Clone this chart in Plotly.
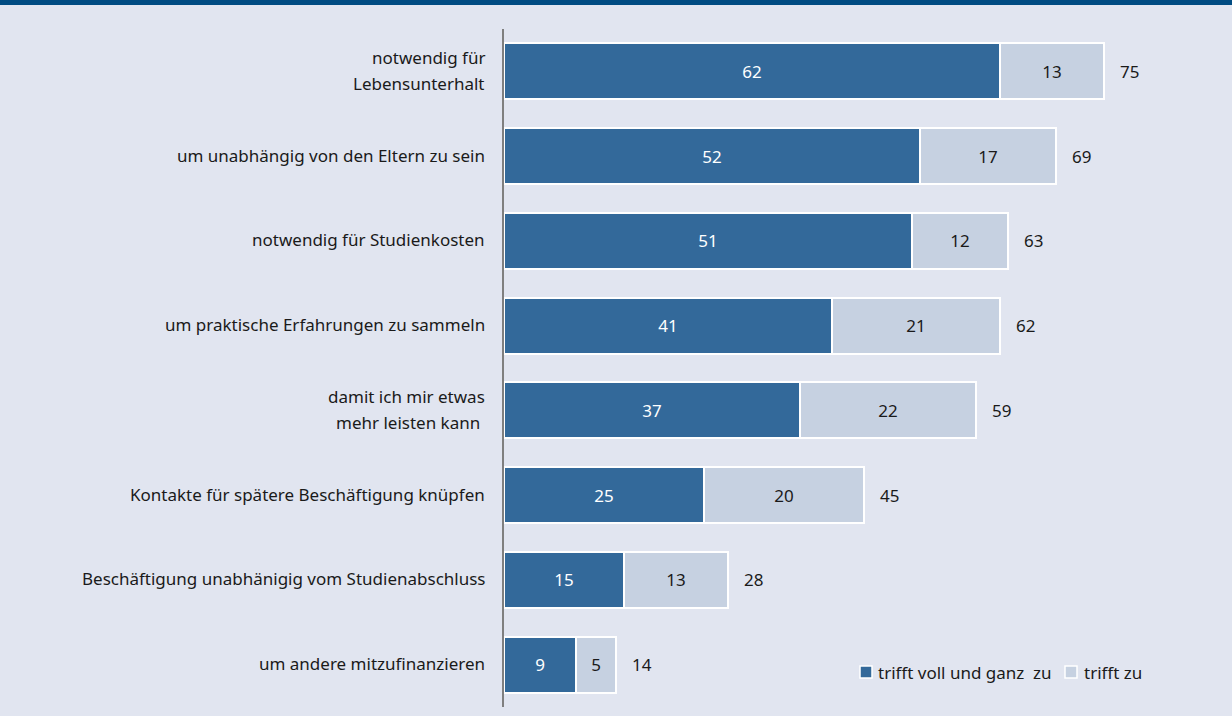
import plotly.graph_objects as go

categories = [
    "notwendig für<br>Lebensunterhalt",
    "um unabhängig von den Eltern zu sein",
    "notwendig für Studienkosten",
    "um praktische Erfahrungen zu sammeln",
    "damit ich mir etwas<br>mehr leisten kann ",
    "Kontakte für spätere Beschäftigung knüpfen",
    "Beschäftigung unabhänigig vom Studienabschluss",
    "um andere mitzufinanzieren",
]
voll = [62, 52, 51, 41, 37, 25, 15, 9]
zu = [13, 17, 12, 21, 22, 20, 13, 5]
totals = [75, 69, 63, 62, 59, 45, 28, 14]
legend_names = ["trifft voll und ganz  zu", "trifft zu"]

DARK = "#33699a"
LIGHT = "#c6d1e1"
BG = "#e1e5f0"
TXT = "#1a1a1a"
FONT = "Noto Sans"
FS = 17

W, H = 1232, 716
ML, MR, MT, MB = 504, 8, 29, 9
PW, PH = W - ML - MR, H - MT - MB


def px2x(px):
    return (px - ML) / PW


def px2y(py):
    return (H - MB - py) / PH


fig = go.Figure()
fig.add_trace(go.Bar(
    y=categories, x=voll, orientation="h", name=legend_names[0],
    marker=dict(color=DARK, line=dict(color="white", width=2)),
    text=voll, textposition="inside", insidetextanchor="middle",
    textfont=dict(color="white", size=FS, family=FONT), width=0.66,
))
fig.add_trace(go.Bar(
    y=categories, x=zu, orientation="h", name=legend_names[1],
    marker=dict(color=LIGHT, line=dict(color="white", width=2)),
    text=zu, textposition="inside", insidetextanchor="middle",
    textfont=dict(color=TXT, size=FS, family=FONT), width=0.66,
))
for c, t in zip(categories, totals):
    fig.add_annotation(x=t, y=c, text=str(t), showarrow=False, xanchor="left",
                       xshift=14, font=dict(size=FS, color=TXT, family=FONT))

# category labels (with wider line spacing, as in the reference)
for c in categories:
    lines = c.split("<br>")
    n = len(lines)
    for i, ln in enumerate(lines):
        fig.add_annotation(xref="paper", x=0, y=c, text=ln, showarrow=False,
                           xanchor="right", xshift=-17,
                           yshift=((n - 1) / 2 - i) * 26 + 1,
                           font=dict(size=FS, color=TXT, family=FONT))

# top band
fig.add_shape(type="rect", xref="paper", yref="paper", x0=px2x(-10), x1=px2x(W + 10),
              y0=px2y(5), y1=px2y(-10), fillcolor="#004b82", line_width=0, layer="above")

# legend (manual, to match reference layout)
legend_items = [(860, 876, DARK), (1065, 1082, LIGHT)]
for (sx, tx, col), name in zip(legend_items, legend_names):
    fig.add_shape(type="rect", xref="paper", yref="paper",
                  x0=px2x(sx), x1=px2x(sx + 12), y0=px2y(678), y1=px2y(666),
                  fillcolor=col, line=dict(color="white", width=1.5), layer="above")
    fig.add_annotation(xref="paper", yref="paper", x=px2x(tx), y=px2y(672),
                       text=name, showarrow=False, xanchor="left", yanchor="middle",
                       font=dict(size=FS, color=TXT, family=FONT))

fig.update_layout(
    width=W, height=H, barmode="stack",
    paper_bgcolor=BG, plot_bgcolor=BG,
    margin=dict(l=ML, r=MR, t=MT, b=MB),
    font=dict(family=FONT, size=FS, color=TXT),
    showlegend=False,
    uniformtext=dict(mode="show", minsize=10),
    hovermode=False,
)
fig.update_xaxes(range=[0, PW / 8], visible=False, fixedrange=True)
fig.update_yaxes(autorange=False, range=[7.5, -0.5], showgrid=False,
                 showline=True, linecolor="#7f7f7f", linewidth=2,
                 ticks="", showticklabels=False, zeroline=False, fixedrange=True)

fig.write_html("out.html",
               config={"displayModeBar": False},
               post_script="document.body.style.margin='0';"
                           "document.body.style.background='" + BG + "';")
